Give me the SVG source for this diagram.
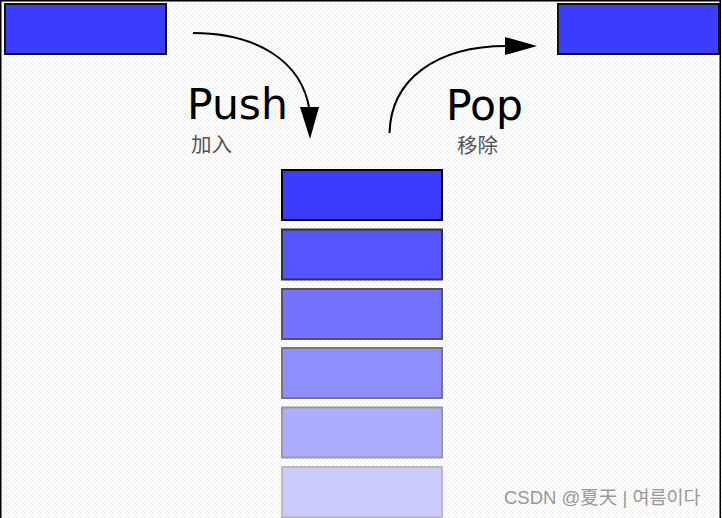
<svg xmlns="http://www.w3.org/2000/svg" width="722" height="518" viewBox="0 0 722 518">
<defs>
<pattern id="chk" width="4" height="4" patternUnits="userSpaceOnUse">
<rect width="4" height="4" fill="#ffffff"/>
<rect width="2" height="2" fill="#f3f3f3"/>
<rect x="2" y="2" width="2" height="2" fill="#f3f3f3"/>
</pattern>
<style>
.box{stroke-width:2}
.arrow{fill:none;stroke:#000;stroke-width:2}
.head{fill:#000}
.big{font-family:"DejaVu Sans",sans-serif;font-size:42.5px;fill:#000}
.cn{font-family:"Noto Sans CJK SC",sans-serif;font-size:20.5px;fill:#555}
.wm{font-family:"Liberation Sans","Noto Sans CJK SC","Noto Sans CJK KR",sans-serif;font-size:18.5px;fill:#999}
</style>
</defs>
<rect x="0" y="0" width="722" height="518" fill="url(#chk)"/>
<rect x="0.75" y="0.75" width="719.5" height="530" fill="none" stroke="#000" stroke-width="1.5"/>

<g id="src-box"><rect class="box" x="5" y="4" width="161" height="50" fill="#3c3cff" stroke="#111"/></g>
<g id="dst-box"><rect class="box" x="558" y="4" width="161" height="50" fill="#3c3cff" stroke="#111"/></g>

<g id="stack">
<g id="s1"><rect class="box" x="282" y="170" width="160" height="50" fill="#3c3cff" stroke="#000"/></g>
<g id="s2"><rect class="box" x="282" y="229.5" width="160" height="50" fill="#5555ff" stroke="#333"/></g>
<g id="s3"><rect class="box" x="282" y="289" width="160" height="50" fill="#7373ff" stroke="#555"/></g>
<g id="s4"><rect class="box" x="282" y="348" width="160" height="50" fill="#8e8eff" stroke="#777"/></g>
<g id="s5"><rect class="box" x="282" y="407.5" width="160" height="50" fill="#adadff" stroke="#999"/></g>
<g id="s6"><rect class="box" x="282" y="467" width="160" height="50" fill="#cbcbfd" stroke="#bbb"/></g>
</g>

<g id="connectors">
<path class="arrow" d="M193,33 C255,33 302,60 309.5,110"/>
<polygon class="head" points="300,107 319,107 310,139"/>
<path class="arrow" d="M389.5,133 C391,80 435,46 507,46"/>
<polygon class="head" points="505,37 537,46 505,55"/>
</g>

<g id="labels">
<text class="big" x="187" y="119">Push</text>
<text class="cn" x="191" y="152">加入</text>
<text class="big" x="446" y="120">Pop</text>
<text class="cn" x="457" y="153">移除</text>
</g>

<text class="wm" x="504" y="504">CSDN @夏天 | 여름이다</text>
</svg>
